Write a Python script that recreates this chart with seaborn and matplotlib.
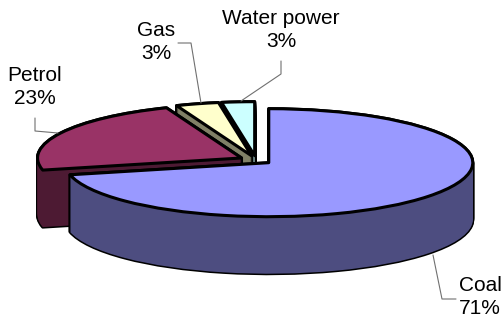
import numpy as np
import matplotlib
matplotlib.use("Agg")
import matplotlib.pyplot as plt
from matplotlib.colors import to_rgb
import seaborn as sns

sources = ["Coal", "Petrol", "Gas", "Water power"]
shares = [71.4, 22.6, 3.4, 2.6]
slice_colors = ["#9999FF", "#993366", "#FFFFCC", "#CCFFFF"]

W, H = 502, 323
CX, CY, RX, RY, DEPTH = 256, 160, 204, 54, 57
EXPLODE = 0.08
LW = 2.2
PAINT_ORDER = [3, 2, 1, 0]

sns.set_theme(style="white")
plt.rcParams["font.family"] = ["Liberation Sans", "DejaVu Sans"]

fig = plt.figure(figsize=(W / 100, H / 100), dpi=100, facecolor="white")
ax = fig.add_axes([0, 0, 1, 1])
explode = [EXPLODE] * len(shares)
rank = {s: r for r, s in enumerate(PAINT_ORDER)}


def draw_layer(dy, colors, edge, lw, stage):
    wedges, _ = ax.pie(shares, colors=colors, explode=explode, startangle=90,
                       counterclock=False, center=(0, -dy), radius=1,
                       wedgeprops=dict(edgecolor=edge, linewidth=lw, joinstyle="round"))
    for i, w in enumerate(wedges):
        w.set_zorder(10 * rank[i] + stage)
        w.set_clip_on(False)


side_colors = [tuple(0.5 * c for c in to_rgb(col)) for col in slice_colors]
layers = np.arange(0, DEPTH + 0.5, 1.0) / RY
for d in layers:
    draw_layer(d, ["black"] * 4, "black", LW, 1)
    draw_layer(d, side_colors, "none", 0, 2)
draw_layer(0, slice_colors, "black", LW, 3)

ax.set_aspect("auto")
ax.set_xlim(-CX / RX, (W - CX) / RX)
ax.set_ylim(-(H - CY) / RY, CY / RY)
ax.set_axis_off()


def px(x, y):
    return x / W, 1 - y / H


label_pos = {"Coal": (480, 297), "Petrol": (35, 87), "Gas": (156, 42), "Water power": (281, 30)}
leaders = {
    "Coal": [(433, 255), (442, 299), (456, 299)],
    "Petrol": [(35, 118), (35, 131), (58, 133)],
    "Gas": [(178, 43), (191, 43), (201, 103)],
    "Water power": [(281, 61), (281, 74), (241, 101)],
}
for name, share in zip(sources, shares):
    x, y = px(*label_pos[name])
    fig.text(x, y, f"{name}\n{share:.0f}%", ha="center", va="center", fontsize=15,
             color="black", linespacing=1.33)
    pts = np.array([px(*p) for p in leaders[name]])
    fig.add_artist(plt.Line2D(pts[:, 0], pts[:, 1], color="#707070", lw=0.8,
                              transform=fig.transFigure))

fig.savefig("out.png", dpi=100, facecolor="white")
